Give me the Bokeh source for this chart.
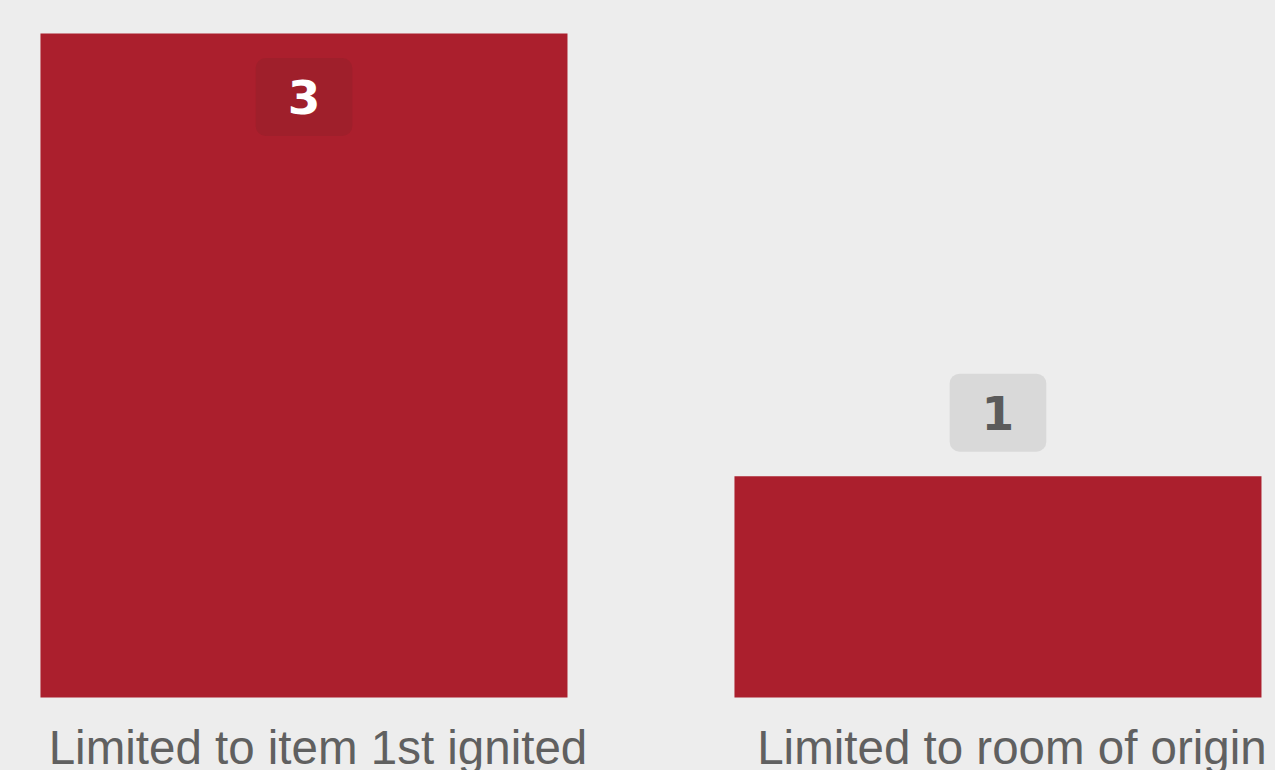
from bokeh.plotting import figure
from bokeh.models import ColumnDataSource, Range1d
from bokeh.core.properties import value
from bokeh.embed import file_html
from bokeh.resources import INLINE

# ---- data ----
categories = ["Limited to item 1st ignited", "Limited to room of origin"]
counts = [3, 1]

# ---- styles ----
BG = "#ededed"
BAR = "#ab1f2d"
INSIDE_BOX = "#9f1f2b"
OUTSIDE_BOX = "#d9d9d9"
INSIDE_TXT = "#ffffff"
OUTSIDE_TXT = "#5b5b5b"
CAT_TXT = "#606060"

xs = list(range(len(categories)))
vmax = max(counts)
inside = [c >= vmax / 2 for c in counts]

src = ColumnDataSource(dict(
    x=xs,
    top=counts,
    cat=categories,
    lab=[str(c) for c in counts],
    lab_off=[63.5 if i else -63.5 for i in inside],
    box=[INSIDE_BOX if i else OUTSIDE_BOX for i in inside],
    txt=[INSIDE_TXT if i else OUTSIDE_TXT for i in inside],
))

W, H = 1275, 770
p = figure(width=W, height=H, output_backend="svg", toolbar_location=None,
           x_range=Range1d(-0.4373, 1.3999), y_range=Range1d(-0.3298, 3.1491),
           min_border=0, background_fill_color=BG, border_fill_color=BG,
           outline_line_color=None)
p.axis.visible = False
p.grid.grid_line_color = None

p.vbar(x="x", top="top", bottom=0, width=0.7594, source=src,
       fill_color=BAR, line_color=None)

# value labels with rounded box
p.text(x="x", y="top", text="lab", source=src, y_offset="lab_off",
       text_align="center", text_baseline="middle",
       text_font=value("DejaVu Sans"), text_font_style="bold",
       text_font_size="47px", text_color="txt",
       background_fill_color="box", padding=(32, 22), border_radius=10)

# category labels
p.text(x="x", y=0, text="cat", source=src, x_offset=14, y_offset=50,
       text_align="center", text_baseline="alphabetic",
       text_font=value("Liberation Sans"), text_font_size="47.5px",
       text_color=CAT_TXT)

html = file_html(p, INLINE)
html = html.replace("<body>", '<body style="background-color:%s">' % BG)
open("out.html", "w").write(html)
